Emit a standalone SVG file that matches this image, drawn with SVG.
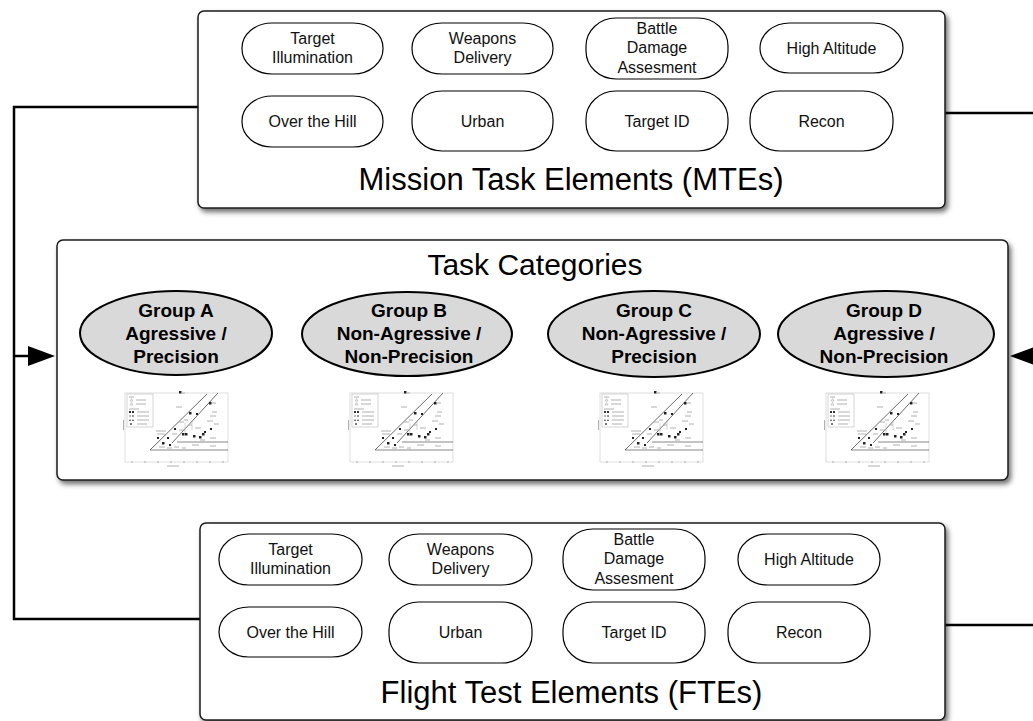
<svg xmlns="http://www.w3.org/2000/svg" xmlns:xlink="http://www.w3.org/1999/xlink" width="1033" height="721" viewBox="0 0 1033 721">
<style>
.box{fill:#fff;stroke:#1a1a1a;stroke-width:1.5;filter:url(#sh)}
.pill{fill:#fff;stroke:#000;stroke-width:1.2}
.pt{font-family:"Liberation Sans",Arial,sans-serif;font-size:16px;fill:#111;text-anchor:middle}
.title{font-family:"Liberation Sans",Arial,sans-serif;font-size:31px;fill:#000;text-anchor:middle}
.grp{fill:#d9d9d9;stroke:#000;stroke-width:2}
.gt{font-family:"Liberation Sans",Arial,sans-serif;font-size:19px;font-weight:bold;fill:#000;text-anchor:middle}
.conn{fill:none;stroke:#000;stroke-width:2.5}
.ct{stroke:#b0b0b0;stroke-width:1;fill:none}
</style>
<defs>
<filter id="sh" x="-5%" y="-5%" width="110%" height="115%">
<feDropShadow dx="2.5" dy="3.5" stdDeviation="2.5" flood-color="#000" flood-opacity="0.55"/>
</filter>
<marker id="ah" viewBox="0 0 27 20" refX="0" refY="10" markerWidth="27" markerHeight="20" markerUnits="userSpaceOnUse" orient="auto">
<path d="M0,0 L27,10 L0,20 Z" fill="#000"/>
</marker>
<symbol id="chart" viewBox="0 0 108 77">
<rect x="3" y="3" width="103" height="69" fill="#fff" stroke="#c8c8c8" stroke-width="0.6"/>
<rect x="5" y="4" width="26" height="33" fill="none" stroke="#aaa" stroke-width="0.5"/>
<path class="ct" d="M7,7 H12 M14,10 H24 M14,14 H24 M7,19 H17 M15,22 H27 M15,26 H27 M15,30 H27 M15,34 H25" stroke-width="0.8"/>
<path d="M8,11 l1.5,-2.5 l1.5,2.5 z M8,15 l1.5,-2.5 l1.5,2.5 z" fill="none" stroke="#999" stroke-width="0.5"/>
<rect x="7" y="21" width="2" height="2" fill="#333"/><rect x="10" y="21" width="2" height="2" fill="#333"/>
<rect x="7" y="25" width="2" height="2" fill="#bbb"/><rect x="10" y="25" width="2" height="2" fill="#999"/>
<path d="M7,31 l1,-2 l1,2 z M10,31 l1,-2 l1,2 z" fill="#444"/>
<rect x="8" y="33" width="2" height="2" fill="#777"/>
<path d="M28,60 L85,4 M50,53 L96,3" stroke="#444" stroke-width="0.8" fill="none"/>
<path d="M28,60 H106 M55,52 H106" stroke="#555" stroke-width="0.7" fill="none"/>
<g fill="#222">
<rect x="57" y="1" width="2.5" height="2.5"/><rect x="87" y="12" width="2.5" height="2.5"/>
<rect x="67" y="22" width="2.5" height="2.5"/><rect x="74" y="23" width="2" height="2"/>
<rect x="60" y="43" width="2.5" height="2.5"/><rect x="63" y="43" width="2.5" height="2.5"/>
<rect x="71" y="45" width="2.5" height="2.5"/><rect x="77" y="46" width="2.5" height="2.5"/>
<rect x="80" y="43" width="2.5" height="2.5"/><rect x="82" y="41" width="2" height="2"/>
<rect x="45" y="47" width="2" height="2"/><rect x="40" y="52" width="2.5" height="2.5"/>
<rect x="47" y="54" width="2" height="2"/><rect x="88" y="38" width="2" height="2"/>
<rect x="35" y="47" width="2" height="2"/><rect x="52" y="38" width="2" height="2"/>
</g>
<path class="ct" d="M59,3 H63 M90,13 H94 M54,17 H60 M62,30 H66 M56,32 H62 M57,40 H63 M90,22 H95 M88,26 H94 M85,31 H91 M92,34 H97 M66,35 H70 M73,38 H79 M50,44 H55 M34,41 H44 M35,44 H43 M37,57 H43 M45,58 H50 M52,57 H57 M70,55 H77 M88,48 H94 M88,56 H94 M60,58 H64 M78,50 H83"/>
<path d="M63,33 v10 M70,32 v8" stroke="#bbb" stroke-width="0.6"/>
<path class="ct" d="M9,72 h2 M22,72 h2 M35,72 h2 M48,72 h2 M61,72 h2 M74,72 h2 M87,72 h2 M100,72 h2 M45,76 h12 M1.5,30 v10" stroke-width="0.8"/>
</symbol>
</defs>
<rect width="1033" height="721" fill="#fff"/>

<g id="connectors">
<path class="conn" d="M198,107 H14 V619 H200"/>
<path class="conn" d="M14,356 H28" marker-end="url(#ah)"/>
<path class="conn" d="M945,113 H1045 V625 H945"/>
<path class="conn" d="M1045,356 H1037" marker-end="url(#ah)"/>
</g>

<g id="mte">
<rect class="box" x="198" y="11" width="747" height="197" rx="6"/>
<text class="title" x="571" y="190">Mission Task Elements (MTEs)</text>
</g>
<g id="mte-target-illumination"><rect class="pill" x="242" y="23" width="141" height="51" rx="30" ry="25"/><text class="pt" x="312.5" y="44">Target</text><text class="pt" x="312.5" y="63">Illumination</text></g>
<g id="mte-weapons-delivery"><rect class="pill" x="412" y="23" width="141" height="51" rx="30" ry="25"/><text class="pt" x="482.5" y="44">Weapons</text><text class="pt" x="482.5" y="63">Delivery</text></g>
<g id="mte-bda"><rect class="pill" x="586" y="18" width="142" height="61" rx="30" ry="28"/><text class="pt" x="657" y="33.5">Battle</text><text class="pt" x="657" y="53">Damage</text><text class="pt" x="657" y="72.5">Assesment</text></g>
<g id="mte-high-altitude"><rect class="pill" x="760" y="23" width="143" height="50" rx="30" ry="25"/><text class="pt" x="831.5" y="53.5">High Altitude</text></g>
<g id="mte-over-the-hill"><rect class="pill" x="242" y="96" width="141" height="51" rx="30" ry="25"/><text class="pt" x="312.5" y="127">Over the Hill</text></g>
<g id="mte-urban"><rect class="pill" x="412" y="91" width="141" height="60" rx="30" ry="28"/><text class="pt" x="482.5" y="126.5">Urban</text></g>
<g id="mte-target-id"><rect class="pill" x="586" y="91" width="142" height="60" rx="30" ry="28"/><text class="pt" x="657" y="126.5">Target ID</text></g>
<g id="mte-recon"><rect class="pill" x="750" y="91" width="143" height="60" rx="30" ry="28"/><text class="pt" x="821.5" y="126.5">Recon</text></g>

<g id="task-categories">
<rect class="box" x="57" y="240" width="951" height="240" rx="6"/>
<text class="title" x="535" y="275" style="font-size:30px">Task Categories</text>
</g>
<g id="group-a"><ellipse class="grp" cx="176" cy="333" rx="96" ry="42"/><text class="gt" x="176" y="317">Group A</text><text class="gt" x="176" y="340">Agressive /</text><text class="gt" x="176" y="363">Precision</text><use xlink:href="#chart" x="122" y="390" width="108" height="77"/></g>
<g id="group-b"><ellipse class="grp" cx="407" cy="334" rx="105" ry="42"/><text class="gt" x="409" y="317">Group B</text><text class="gt" x="409" y="340">Non-Agressive /</text><text class="gt" x="409" y="363">Non-Precision</text><use xlink:href="#chart" x="347" y="390" width="108" height="77"/></g>
<g id="group-c"><ellipse class="grp" cx="654" cy="334" rx="106" ry="43"/><text class="gt" x="654" y="317">Group C</text><text class="gt" x="654" y="340">Non-Agressive /</text><text class="gt" x="654" y="363">Precision</text><use xlink:href="#chart" x="597" y="390" width="108" height="77"/></g>
<g id="group-d"><ellipse class="grp" cx="886" cy="334" rx="108" ry="43"/><text class="gt" x="884" y="317">Group D</text><text class="gt" x="884" y="340">Agressive /</text><text class="gt" x="884" y="363">Non-Precision</text><use xlink:href="#chart" x="823" y="390" width="108" height="77"/></g>

<g id="fte">
<rect class="box" x="200" y="523" width="745" height="197" rx="6"/>
<text class="title" x="571.5" y="703">Flight Test Elements (FTEs)</text>
</g>
<g id="fte-target-illumination"><rect class="pill" x="219" y="534" width="143" height="51" rx="30" ry="25"/><text class="pt" x="290.5" y="555">Target</text><text class="pt" x="290.5" y="574">Illumination</text></g>
<g id="fte-weapons-delivery"><rect class="pill" x="389" y="534" width="143" height="51" rx="30" ry="25"/><text class="pt" x="460.5" y="555">Weapons</text><text class="pt" x="460.5" y="574">Delivery</text></g>
<g id="fte-bda"><rect class="pill" x="563" y="529" width="142" height="61" rx="30" ry="28"/><text class="pt" x="634" y="544.5">Battle</text><text class="pt" x="634" y="564">Damage</text><text class="pt" x="634" y="583.5">Assesment</text></g>
<g id="fte-high-altitude"><rect class="pill" x="738" y="534" width="142" height="51" rx="30" ry="25"/><text class="pt" x="809" y="565">High Altitude</text></g>
<g id="fte-over-the-hill"><rect class="pill" x="219" y="607" width="143" height="50" rx="30" ry="25"/><text class="pt" x="290.5" y="637.5">Over the Hill</text></g>
<g id="fte-urban"><rect class="pill" x="389" y="602" width="143" height="61" rx="30" ry="28"/><text class="pt" x="460.5" y="638">Urban</text></g>
<g id="fte-target-id"><rect class="pill" x="563" y="602" width="142" height="61" rx="30" ry="28"/><text class="pt" x="634" y="638">Target ID</text></g>
<g id="fte-recon"><rect class="pill" x="728" y="602" width="142" height="61" rx="30" ry="28"/><text class="pt" x="799" y="638">Recon</text></g>
</svg>
